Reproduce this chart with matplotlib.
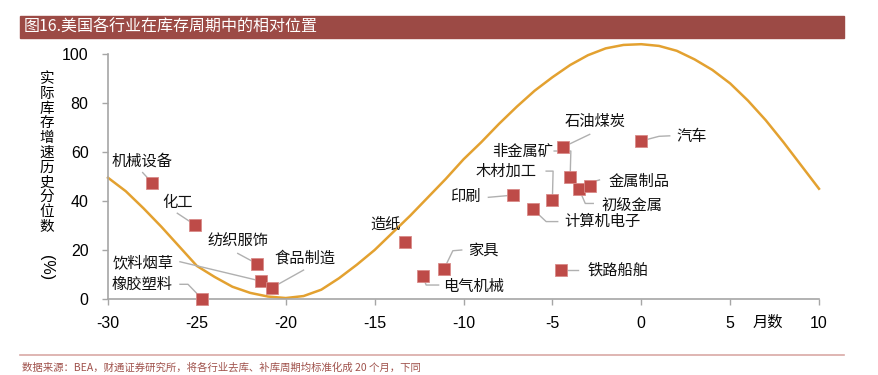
import matplotlib
matplotlib.use("Agg")
import matplotlib.pyplot as plt
from matplotlib.patches import Rectangle
from matplotlib.lines import Line2D

plt.rcParams['font.family'] = ['Noto Sans CJK SC', 'DejaVu Sans']
plt.rcParams['axes.unicode_minus'] = False

# idealised inventory cycle curve
cycle_x = list(range(-30, 11))
cycle_y = [49.5, 44, 37, 29.5, 21.5, 13.5, 9, 5, 2.5, 1, 0.4, 1.2, 3.8, 8.5, 14, 20, 27, 34,
           41.5, 49, 57, 64, 71.5, 78.5, 85, 90.5, 95.5, 99.5, 102.3, 103.7, 104, 103.3,
           101.3, 97.8, 93.5, 88, 81, 73, 64, 54.5, 45]

# industries: months in cycle, inventory growth percentile
industries = ['机械设备', '化工', '纺织服饰', '饮料烟草', '食品制造', '橡胶塑料', '造纸', '电气机械',
              '家具', '铁路船舶', '计算机电子', '印刷', '木材加工', '初级金属', '金属制品',
              '非金属矿', '石油煤炭', '汽车']
months = [-27.5, -25.1, -21.6, -21.4, -20.8, -24.7, -13.3, -12.3, -11.1, -4.5, -6.1, -7.2,
          -5.0, -3.5, -2.9, -4.0, -4.4, 0.0]
pctile = [47.3, 30.2, 14.3, 7.3, 4.5, 0, 23.3, 9.4, 12.2, 11.8, 36.7, 42.4, 40.4, 44.9,
          46.1, 49.7, 62.0, 64.5]

# label placement (text centre) and leader path from label side to marker
label_pos = {
    '机械设备': (-28.1, 56.3), '化工': (-26.1, 39.5), '纺织服饰': (-22.7, 24.1),
    '饮料烟草': (-28.05, 15.0), '食品制造': (-18.9, 16.6), '橡胶塑料': (-28.1, 6.0),
    '造纸': (-14.4, 30.5), '电气机械': (-9.45, 5.3), '家具': (-8.9, 20.0),
    '铁路船舶': (-1.3, 11.8), '计算机电子': (-2.2, 31.6), '印刷': (-9.9, 41.8),
    '木材加工': (-7.6, 52.0), '初级金属': (-0.55, 38.4), '金属制品': (-0.15, 47.9),
    '非金属矿': (-6.65, 60.4), '石油煤炭': (-2.6, 72.6), '汽车': (2.85, 66.2),
}
leaders = {
    '机械设备': [(-28.05, 51.6)], '化工': [(-26.1, 35.0)], '纺织服饰': [(-22.7, 18.6)],
    '饮料烟草': [(-25.95, 15.2)], '食品制造': [(-19.0, 11.8)],
    '橡胶塑料': [(-25.95, 6.0), (-25.5, 6.0)],
    '电气机械': [(-11.4, 5.7), (-12.1, 5.7)],
    '家具': [(-10.1, 20.0), (-10.6, 19.7)],
    '铁路船舶': [(-3.55, 11.8)],
    '计算机电子': [(-4.7, 31.6), (-5.35, 31.6)],
    '印刷': [(-8.6, 41.5)],
    '木材加工': [(-5.35, 52.2), (-4.96, 52.2)],
    '初级金属': [(-2.7, 39.0), (-3.15, 39.0)],
    '金属制品': [(-2.35, 48.6), (-2.7, 47.9)],
    '非金属矿': [(-4.9, 60.4), (-3.96, 60.4)],
    '石油煤炭': [(-2.9, 67.2)],
    '汽车': [(1.6, 66.6), (1.0, 66.4)],
}

fig = plt.figure(figsize=(8.79, 3.75), dpi=100)

# title bar
fig.patches.append(Rectangle((20 / 879, 1 - 38 / 375), 824 / 879, 22 / 375,
                             transform=fig.transFigure, color='#9C4A45', zorder=0))
fig.text(24 / 879, 1 - 27 / 375, '图16.美国各行业在库存周期中的相对位置', color='white',
         fontsize=11.5, va='center', ha='left')
# footer
fig.add_artist(Line2D([20 / 879, 844 / 879], [1 - 355 / 375] * 2, color='#D9A9A6', lw=1.2,
                      transform=fig.transFigure))
fig.text(22 / 879, 1 - 368 / 375,
         '数据来源：BEA，财通证券研究所，将各行业去库、补库周期均标准化成 20 个月，下同',
         color='#A0524C', fontsize=7.5, va='center', ha='left')

ax = fig.add_axes([108 / 879, 1 - 299 / 375, 711 / 879, 245 / 375])
ax.set_xlim(-30, 10)
ax.set_ylim(0, 100)

ax.plot(cycle_x, cycle_y, color='#E3A130', lw=1.8, clip_on=False, zorder=2)

for name, mx, my in zip(industries, months, pctile):
    tx, ty = label_pos[name]
    if name in leaders:
        pts = leaders[name] + [(mx, my)]
        ax.plot([p[0] for p in pts], [p[1] for p in pts], color='#B0B0B0', lw=1.0,
                clip_on=False, zorder=3)
    ax.text(tx, ty, name, fontsize=11, ha='center', va='center', color='#111111')

ax.plot(months, pctile, 's', color='#BE4B48', markersize=8, markeredgecolor='#D98A88',
        markeredgewidth=0.6, clip_on=False, zorder=4, linestyle='none')

for s in ['top', 'right']:
    ax.spines[s].set_visible(False)
for s in ['left', 'bottom']:
    ax.spines[s].set_color('#A6A6A6')
    ax.spines[s].set_linewidth(1.2)
ax.set_xticks(range(-30, 11, 5))
ax.set_yticks(range(0, 101, 20))
ax.tick_params(colors='#A6A6A6', length=4, width=1)
for lab in ax.get_xticklabels() + ax.get_yticklabels():
    lab.set_family('Liberation Sans')
    lab.set_fontsize(11.5)
    lab.set_color('black')
ax.tick_params(axis='x', pad=8)
ax.tick_params(axis='y', pad=10)

# vertical y label and x unit
fig.text(47 / 879, 1 - 153 / 375, '\n'.join('实际库存增速历史分位数'), fontsize=10.5,
         ha='center', va='center', linespacing=1.07)
fig.text(47 / 879, 1 - 268 / 375, '(%)', fontsize=11.5, ha='center', va='center',
         rotation=-90, family='Liberation Sans')
fig.text(768 / 879, 1 - 322 / 375, '月数', fontsize=11, ha='center', va='center')

fig.savefig('out.png', dpi=100)
